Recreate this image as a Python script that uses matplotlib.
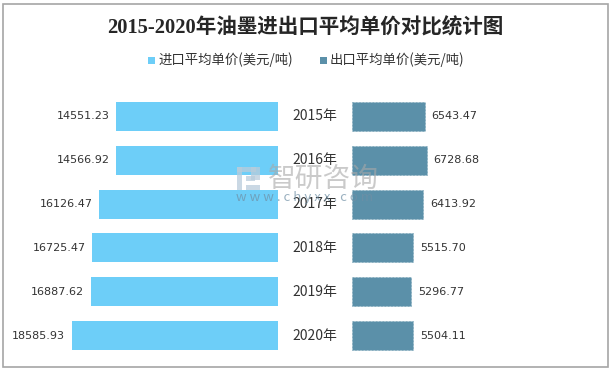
import matplotlib
matplotlib.use("Agg")
import matplotlib.pyplot as plt
from matplotlib.patches import Rectangle

plt.rcParams["font.family"] = ["Noto Sans CJK SC", "DejaVu Sans"]

W, H = 612, 372

TITLE = "2015-2020年油墨进出口平均单价对比统计图"
YEARS = ["2015年", "2016年", "2017年", "2018年", "2019年", "2020年"]
IMPORT_PRICE = [14551.23, 14566.92, 16126.47, 16725.47, 16887.62, 18585.93]
EXPORT_PRICE = [6543.47, 6728.68, 6413.92, 5515.70, 5296.77, 5504.11]
IMPORT_LABEL = "进口平均单价(美元/吨)"
EXPORT_LABEL = "出口平均单价(美元/吨)"

IMPORT_COLOR = "#6DCEF8"
EXPORT_COLOR = "#5B90A9"
TEXT_COLOR = "#333333"
PX_PER_UNIT = 0.01110


def px_axes(fig, x0, x1, y0, y1):
    """Axes from pixel box, y measured from the top of the image."""
    ax = fig.add_axes([x0 / W, 1 - y1 / H, (x1 - x0) / W, (y1 - y0) / H])
    ax.axis("off")
    return ax


def fig_text(fig, x, y, s, **kw):
    fig.text(x / W, 1 - y / H, s, **kw)


def draw_watermark(fig):
    for x, y, w, h, c in [
        (237, 167, 19, 5, "#B9CCDB"), (237, 167, 5, 23, "#B9CCDB"),
        (251, 167, 9, 13, "#B9CCDB"), (246, 176, 9, 5, "#B9CCDB"),
        (246, 185, 14, 5, "#B9CCDB"),
    ]:
        fig.add_artist(Rectangle((x / W, 1 - (y + h) / H), w / W, h / H,
                                 transform=fig.transFigure, color=c, alpha=0.75, lw=0, zorder=5))
    fig_text(fig, 268, 179, "智研咨询", fontsize=20, color="#A8A8A8", alpha=0.6,
             ha="left", va="center", zorder=5)
    fig_text(fig, 236, 198, "w w w . c h y x x . c o m", fontsize=9.5, color="#6F8FA5", alpha=0.7,
             ha="left", va="center", zorder=5)


def main():
    fig = plt.figure(figsize=(W / 100, H / 100), dpi=100, facecolor="white")

    # outer frame
    fig.add_artist(Rectangle((3.5 / W, 1 - 366.5 / H), 604.5 / W, 363 / H, transform=fig.transFigure,
                             fill=False, edgecolor="#A6A6A6", lw=1.2))

    top, bottom = 94.5, 357.5
    pos = list(range(len(YEARS)))

    left = px_axes(fig, 10, 278, top, bottom)
    left.barh(pos, IMPORT_PRICE, height=0.66, color=IMPORT_COLOR)
    left.set_xlim(268 / PX_PER_UNIT, 0)
    left.set_ylim(len(YEARS) - 0.5, -0.5)

    right = px_axes(fig, 352, 600, top, bottom)
    right.barh(pos, EXPORT_PRICE, height=0.66, color=EXPORT_COLOR,
               edgecolor="#6F9DB3", linewidth=0.4, linestyle=(0, (3, 3)))
    right.set_xlim(0, 248 / PX_PER_UNIT)
    right.set_ylim(len(YEARS) - 0.5, -0.5)

    for i, v in enumerate(IMPORT_PRICE):
        left.annotate(f"{v:.2f}", (v, i), xytext=(-4.8, 0), textcoords="offset points",
                      ha="right", va="center", fontsize=8, color=TEXT_COLOR, family="DejaVu Sans")
    for i, v in enumerate(EXPORT_PRICE):
        right.annotate(f"{v:.2f}", (v, i), xytext=(5, 0), textcoords="offset points",
                       ha="left", va="center", fontsize=8, color=TEXT_COLOR, family="DejaVu Sans")

    # year labels sit in the gap between the two sides
    for i, y in enumerate(YEARS):
        right.annotate(y, (0, i), xytext=(-27, 0), textcoords="offset points",
                       ha="center", va="center", fontsize=10, color=TEXT_COLOR)

    fig_text(fig, 305.5, 28, TITLE, ha="center", va="center", fontsize=14.8, fontweight="bold",
             color="#262626", family=["Liberation Serif", "Noto Sans CJK SC"])

    for x, c, s in [(148, IMPORT_COLOR, IMPORT_LABEL), (320, EXPORT_COLOR, EXPORT_LABEL)]:
        fig.add_artist(Rectangle((x / W, 1 - 63.5 / H), 7 / W, 7 / H, transform=fig.transFigure,
                                 color=c, lw=0))
        fig_text(fig, x + 10, 59.5, s, ha="left", va="center", fontsize=9.6, color=TEXT_COLOR)

    draw_watermark(fig)
    fig.savefig("out.png", dpi=100)
    plt.close(fig)


if __name__ == "__main__":
    main()
